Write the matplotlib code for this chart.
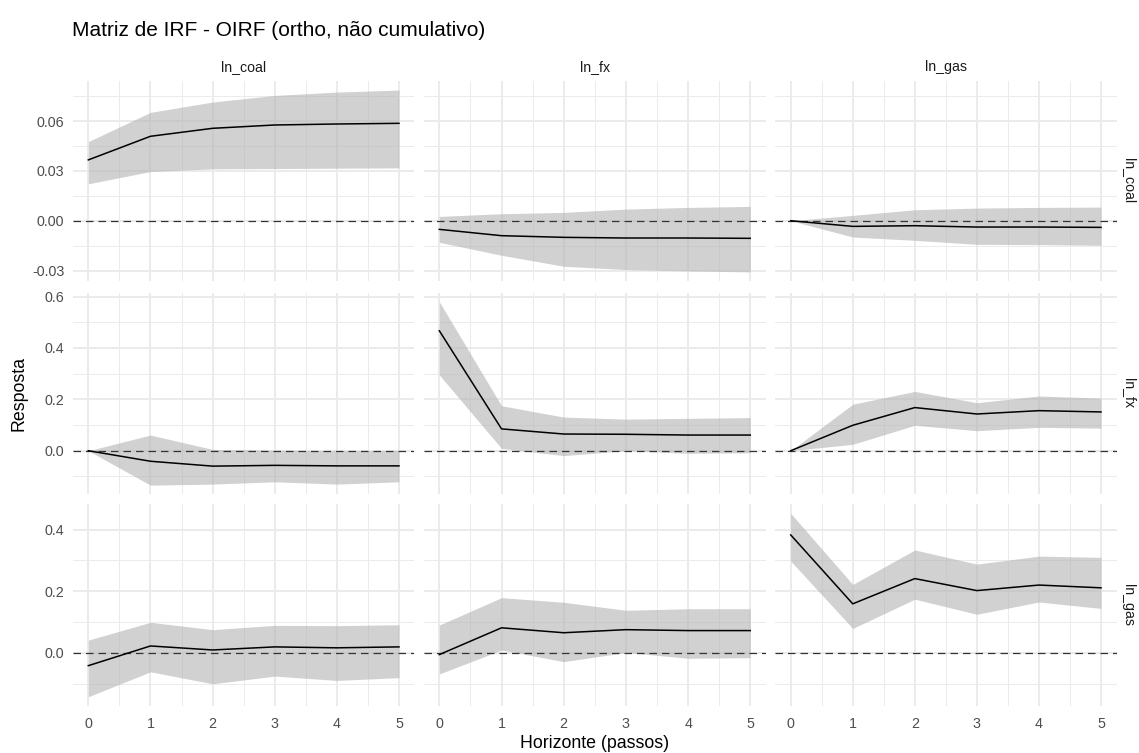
"""
Matriz de IRF (OIRF ortogonalizada, não cumulativa) em grade 3x3,
no estilo theme_minimal do ggplot.
"""

import numpy as np
import matplotlib
matplotlib.use("Agg")
import matplotlib.pyplot as plt
from matplotlib.ticker import FixedLocator

plt.rcParams["font.family"] = ["Liberation Sans", "DejaVu Sans"]

variables = ["ln_coal", "ln_fx", "ln_gas"]
horizon = [0, 1, 2, 3, 4, 5]

# nomes: <impulso>_<resposta>
irf_coal_coal = [0.0366, 0.0508, 0.0556, 0.0576, 0.0582, 0.0586]
lo_coal_coal = [0.0222, 0.0296, 0.0312, 0.0314, 0.0316, 0.0318]
hi_coal_coal = [0.0476, 0.0652, 0.0714, 0.0754, 0.0774, 0.0786]

irf_fx_coal = [-0.0052, -0.0090, -0.0100, -0.0104, -0.0104, -0.0106]
lo_fx_coal = [-0.0130, -0.0208, -0.0274, -0.0294, -0.0302, -0.0308]
hi_fx_coal = [0.0026, 0.0042, 0.0050, 0.0070, 0.0080, 0.0086]

irf_gas_coal = [0.0, -0.0034, -0.0030, -0.0038, -0.0038, -0.0040]
lo_gas_coal = [0.0, -0.0098, -0.0118, -0.0142, -0.0144, -0.0148]
hi_gas_coal = [0.0, 0.0032, 0.0066, 0.0076, 0.0080, 0.0082]

irf_coal_fx = [0.0, -0.041, -0.060, -0.057, -0.059, -0.059]
lo_coal_fx = [0.0, -0.134, -0.130, -0.121, -0.130, -0.121]
hi_coal_fx = [0.0, 0.061, 0.005, 0.002, 0.000, 0.001]

irf_fx_fx = [0.467, 0.085, 0.065, 0.064, 0.061, 0.061]
lo_fx_fx = [0.295, 0.009, -0.019, 0.000, -0.010, -0.008]
hi_fx_fx = [0.580, 0.175, 0.131, 0.123, 0.126, 0.129]

irf_gas_fx = [0.0, 0.099, 0.168, 0.143, 0.156, 0.151]
lo_gas_fx = [0.0, 0.025, 0.099, 0.078, 0.091, 0.088]
hi_gas_fx = [0.0, 0.181, 0.231, 0.187, 0.213, 0.205]

irf_coal_gas = [-0.042, 0.022, 0.009, 0.019, 0.016, 0.019]
lo_coal_gas = [-0.143, -0.062, -0.101, -0.076, -0.090, -0.081]
hi_coal_gas = [0.041, 0.099, 0.075, 0.089, 0.088, 0.091]

irf_fx_gas = [-0.006, 0.081, 0.065, 0.075, 0.072, 0.072]
lo_fx_gas = [-0.069, 0.009, -0.029, 0.001, -0.018, -0.016]
hi_fx_gas = [0.090, 0.179, 0.164, 0.138, 0.143, 0.143]

irf_gas_gas = [0.383, 0.159, 0.241, 0.202, 0.220, 0.211]
lo_gas_gas = [0.298, 0.079, 0.174, 0.125, 0.165, 0.144]
hi_gas_gas = [0.453, 0.222, 0.334, 0.288, 0.314, 0.310]

# ticks do eixo y por linha (resposta)
yticks_coal = [-0.03, 0.00, 0.03, 0.06]
ylabels_coal = ["-0.03", "0.00", "0.03", "0.06"]
yticks_fx = [0.0, 0.2, 0.4, 0.6]
ylabels_fx = ["0.0", "0.2", "0.4", "0.6"]
yticks_gas = [0.0, 0.2, 0.4]
ylabels_gas = ["0.0", "0.2", "0.4"]

panels = {
    ("ln_coal", "ln_coal"): (irf_coal_coal, lo_coal_coal, hi_coal_coal),
    ("ln_fx", "ln_coal"): (irf_fx_coal, lo_fx_coal, hi_fx_coal),
    ("ln_gas", "ln_coal"): (irf_gas_coal, lo_gas_coal, hi_gas_coal),
    ("ln_coal", "ln_fx"): (irf_coal_fx, lo_coal_fx, hi_coal_fx),
    ("ln_fx", "ln_fx"): (irf_fx_fx, lo_fx_fx, hi_fx_fx),
    ("ln_gas", "ln_fx"): (irf_gas_fx, lo_gas_fx, hi_gas_fx),
    ("ln_coal", "ln_gas"): (irf_coal_gas, lo_coal_gas, hi_coal_gas),
    ("ln_fx", "ln_gas"): (irf_fx_gas, lo_fx_gas, hi_fx_gas),
    ("ln_gas", "ln_gas"): (irf_gas_gas, lo_gas_gas, hi_gas_gas),
}
row_ticks = {"ln_coal": (yticks_coal, ylabels_coal),
             "ln_fx": (yticks_fx, ylabels_fx),
             "ln_gas": (yticks_gas, ylabels_gas)}

W, H = 1139, 753
fig = plt.figure(figsize=(W / 100, H / 100), dpi=100)
fig.patch.set_facecolor("white")

# limites dos painéis em pixels
col_px = [(72.8, 414.5), (423.8, 765.8), (775.2, 1116.5)]
row_px = [(81.0, 281.0), (292.6, 494.3), (504.2, 705.9)]

grid_col = "#EBEBEB"
text_col = "#4D4D4D"

x = np.asarray(horizon, dtype=float)
xpad = 0.05 * (x.max() - x.min())

for i, resp in enumerate(variables):
    # escala y livre por linha, 5% de expansão
    lows = [v for imp in variables for v in panels[(imp, resp)][1]]
    highs = [v for imp in variables for v in panels[(imp, resp)][2]]
    ymin, ymax = min(lows + [0]), max(highs + [0])
    ypad = 0.05 * (ymax - ymin)
    ticks, labels = row_ticks[resp]
    step = ticks[1] - ticks[0]
    minors = [t + step / 2 for t in [ticks[0] - step] + ticks]

    for j, imp in enumerate(variables):
        x0, x1 = col_px[j]
        y0, y1 = row_px[i]
        ax = fig.add_axes([x0 / W, 1 - y1 / H, (x1 - x0) / W, (y1 - y0) / H])
        irf, lo, hi = panels[(imp, resp)]

        ax.fill_between(x, lo, hi, color="#B3B3B3", alpha=0.6, lw=0, zorder=2)
        ax.axhline(0, color="#333333", lw=0.9, ls=(0, (6, 4)), zorder=3)
        ax.plot(x, irf, color="black", lw=1.1, zorder=4)

        ax.set_xlim(x.min() - xpad, x.max() + xpad)
        ax.set_ylim(ymin - ypad, ymax + ypad)
        ax.set_xticks(horizon)
        ax.xaxis.set_minor_locator(FixedLocator(x[:-1] + 0.5))
        ax.set_yticks(ticks)
        ax.yaxis.set_minor_locator(FixedLocator(minors))
        ax.grid(which="major", color=grid_col, lw=1.4, zorder=0)
        ax.grid(which="minor", color=grid_col, lw=0.7, zorder=0)
        ax.set_axisbelow(True)
        for s in ax.spines.values():
            s.set_visible(False)
        ax.tick_params(which="both", length=0, colors=text_col,
                       labelsize=10.3)
        ax.tick_params(axis="y", pad=6)
        ax.tick_params(axis="x", pad=8)

        if j == 0:
            ax.set_yticklabels(labels)
        else:
            ax.set_yticklabels([])
        if i == len(variables) - 1:
            ax.set_xticklabels([str(h) for h in horizon])
        else:
            ax.set_xticklabels([])

        if i == 0:
            ax.text(0.5, 1.0 + 14 / (y1 - y0), imp, transform=ax.transAxes,
                    ha="center", va="center", fontsize=10.2, color="#1A1A1A")
        if j == len(variables) - 1:
            ax.text(1.0 + 12 / (x1 - x0), 0.5, resp, transform=ax.transAxes,
                    ha="center", va="center", rotation=-90, fontsize=10.2,
                    color="#1A1A1A")

fig.text(72 / W, 1 - 30 / H, "Matriz de IRF - OIRF (ortho, não cumulativo)",
         ha="left", va="center", fontsize=15, color="black")
fig.text((col_px[0][0] + col_px[2][1]) / 2 / W, 1 - 743 / H,
         "Horizonte (passos)", ha="center", va="center", fontsize=12.8)
fig.text(19 / W, 1 - (row_px[0][0] + row_px[2][1]) / 2 / H, "Resposta",
         ha="center", va="center", rotation=90, fontsize=12.8)

fig.savefig("out.png", dpi=100)
